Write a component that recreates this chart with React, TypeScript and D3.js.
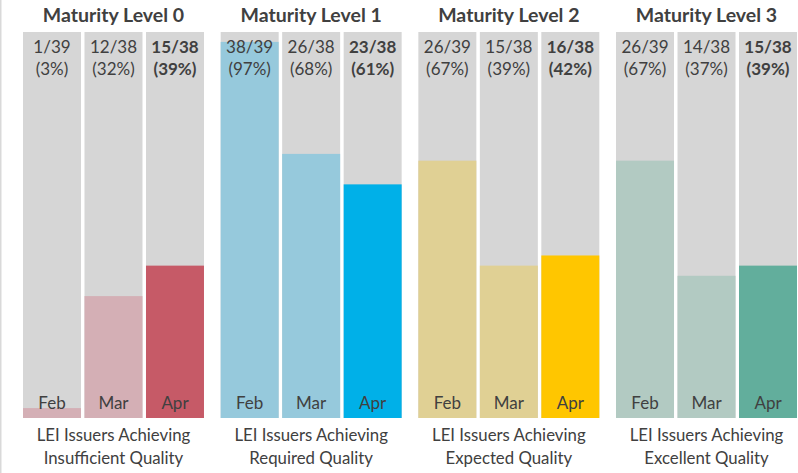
import React from 'react';
import * as d3 from 'd3';

const levels = ['Maturity Level 0', 'Maturity Level 1', 'Maturity Level 2', 'Maturity Level 3'];
const captions = [
  ['LEI Issuers Achieving', 'Insufficient Quality'],
  ['LEI Issuers Achieving', 'Required Quality'],
  ['LEI Issuers Achieving', 'Expected Quality'],
  ['LEI Issuers Achieving', 'Excellent Quality'],
];
const months = ['Feb', 'Mar', 'Apr'];
const counts = [
  [1, 12, 15],
  [38, 26, 23],
  [26, 15, 16],
  [26, 14, 15],
];
const totals = [39, 38, 38];
const lightColors = ['#d4afb5', '#96c9dc', '#e0d094', '#b2cac2'];
const darkColors = ['#c65a67', '#00b0e8', '#ffc600', '#62ae9c'];

const W = 798;
const H = 473;
const FONT = 'Lato, "Open Sans", sans-serif';
const TEXT = '#404040';

const App: React.FC = () => {
  const panelX = d3.scaleBand<string>().domain(levels).range([23, 797]).paddingInner(0.0845);
  const barX = d3.scaleBand<string>().domain(months).range([0, panelX.bandwidth()]).paddingInner(0.057);
  const y = d3.scaleLinear().domain([0, 1]).range([418, 32]);

  return (
    <svg width={W} height={H} style={{ position: 'absolute', left: 0, top: 0 }} fontFamily={FONT}>
      <rect x={0} y={0} width={W} height={H} fill="#fff" />
      <line x1={0.75} x2={0.75} y1={0} y2={H} stroke="#d9d9d9" strokeWidth={1.5} />
      {levels.map((lvl, li) => {
        const px = panelX(lvl)!;
        const cx = px + panelX.bandwidth() / 2;
        return (
          <g key={lvl} transform={`translate(${px},0)`}>
            <text x={cx - px} y={22} textAnchor="middle" fontWeight="bold" fontSize={19.5} fill={TEXT}>
              {lvl}
            </text>
            {months.map((m, mi) => {
              const bx = barX(m)!;
              const bw = barX.bandwidth();
              const v = counts[li][mi] / totals[mi];
              const isLast = mi === months.length - 1;
              const pct = Math.round(v * 100);
              return (
                <g key={m}>
                  <rect x={bx} y={y(1)} width={bw} height={y(0) - y(1)} fill="#d6d6d6" />
                  <rect x={bx} y={y(v)} width={bw} height={y(0) - y(v)} fill={isLast ? darkColors[li] : lightColors[li]} />
                  <text x={bx + bw / 2} y={53} textAnchor="middle" fontSize={17} fill={TEXT} fontWeight={isLast ? 'bold' : 'normal'}>
                    {`${counts[li][mi]}/${totals[mi]}`}
                  </text>
                  <text x={bx + bw / 2} y={75} textAnchor="middle" fontSize={17} fill={TEXT} fontWeight={isLast ? 'bold' : 'normal'}>
                    {`(${pct}%)`}
                  </text>
                  <text x={bx + bw / 2} y={409} textAnchor="middle" fontSize={17} fill={TEXT}>
                    {m}
                  </text>
                </g>
              );
            })}
            {captions[li].map((c, ci) => (
              <text key={ci} x={cx - px} y={441 + ci * 23} textAnchor="middle" fontSize={16.8} fill={TEXT}>
                {c}
              </text>
            ))}
          </g>
        );
      })}
    </svg>
  );
};

export default App;
